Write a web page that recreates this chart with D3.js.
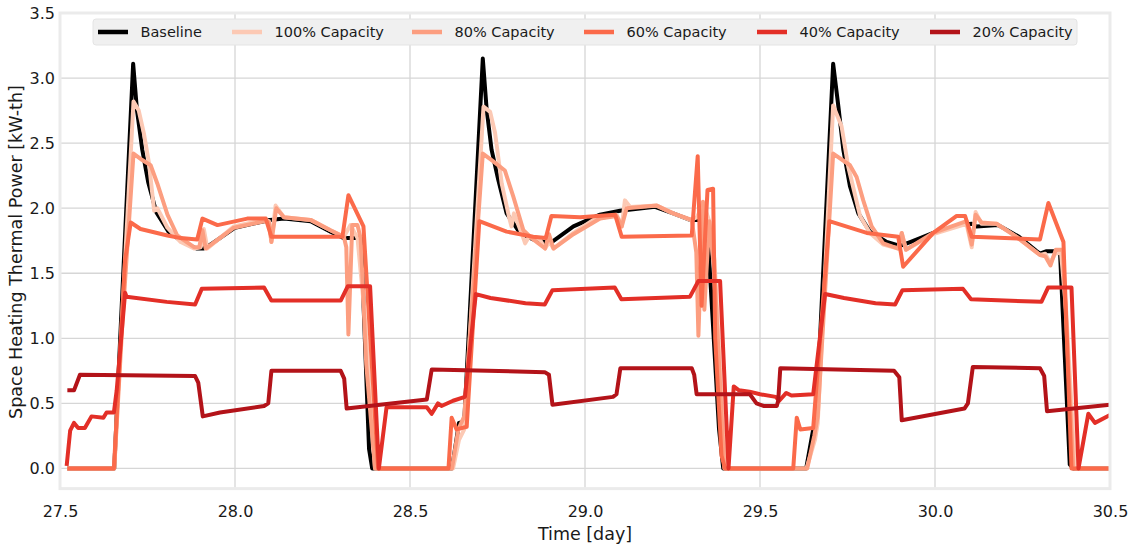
<!DOCTYPE html>
<html>
<head>
<meta charset="utf-8">
<script src="https://cdn.jsdelivr.net/npm/d3@7"></script>
<style>
  html, body { margin: 0; padding: 0; background: #ffffff; }
  svg { display: block; font-family: "DejaVu Sans", sans-serif; }
</style>
</head>
<body>
<svg id="chart" width="1134" height="544"></svg>
<script>
// ---------------- DATA ----------------
const seriesNames = ["Baseline", "100% Capacity", "80% Capacity", "60% Capacity", "40% Capacity", "20% Capacity"];
const seriesColors = ["#000000", "#fcc9b4", "#fc9e80", "#fb6a4a", "#e32f27", "#b31319"];
const xTicks = [27.5, 28.0, 28.5, 29.0, 29.5, 30.0, 30.5];
const yTicks = [0.0, 0.5, 1.0, 1.5, 2.0, 2.5, 3.0, 3.5];

const baseline = [
  [27.521,0],[27.655,0],[27.672,1.0],[27.709,3.11],[27.72,2.75],[27.735,2.45],[27.752,2.2],[27.775,1.97],
  [27.81,1.82],[27.85,1.74],[27.89,1.69],[27.91,1.69],[27.93,1.72],[28.0,1.85],[28.083,1.90],[28.1,1.91],
  [28.14,1.92],[28.216,1.90],[28.273,1.82],[28.311,1.77],[28.36,1.77],[28.383,0.15],[28.392,0],
  [28.62,0],[28.64,0.35],[28.655,0.36],[28.708,3.15],[28.719,2.76],[28.733,2.45],[28.752,2.22],[28.776,1.96],
  [28.814,1.81],[28.852,1.76],[28.9,1.73],[28.967,1.86],[29.043,1.95],[29.1,1.98],[29.2,2.01],[29.252,1.96],
  [29.3,1.91],[29.324,1.91],[29.348,1.92],[29.383,0.3],[29.395,0],
  [29.632,0],[29.652,0.3],[29.66,0.35],[29.709,3.11],[29.724,2.78],[29.738,2.45],[29.757,2.17],[29.781,1.96],
  [29.814,1.82],[29.862,1.74],[29.9,1.71],[29.929,1.74],[29.995,1.81],[30.071,1.87],[30.105,1.88],[30.119,1.86],
  [30.18,1.87],[30.24,1.78],[30.29,1.67],[30.30,1.65],[30.319,1.67],[30.357,1.67],[30.385,0.03],[30.395,0],[30.5,0]
];

const cap100 = [
  [27.521,0],[27.655,0],[27.68,1.3],[27.71,2.82],[27.725,2.75],[27.74,2.57],[27.754,2.35],[27.769,1.98],
  [27.778,2.0],[27.807,1.85],[27.845,1.74],[27.883,1.69],[27.902,1.70],[27.911,1.84],[27.921,1.69],[27.997,1.86],
  [28.083,1.91],[28.097,1.90],[28.104,1.74],[28.116,2.02],[28.14,1.93],[28.216,1.91],[28.273,1.83],[28.311,1.78],
  [28.33,1.87],[28.35,1.77],[28.37,1.2],[28.40,0],
  [28.623,0],[28.64,0.22],[28.655,0.3],[28.71,2.78],[28.729,2.74],[28.743,2.58],[28.762,2.19],[28.784,1.92],
  [28.79,1.86],[28.797,1.96],[28.82,1.80],[28.829,1.73],[28.84,1.78],[28.871,1.76],[28.886,1.69],[28.898,1.74],
  [28.91,1.69],[28.967,1.81],[29.024,1.91],[29.09,1.95],[29.105,1.86],[29.114,2.06],[29.129,2.01],[29.205,2.02],
  [29.252,1.96],[29.3,1.91],[29.32,1.93],[29.338,2.04],[29.355,1.9],[29.37,1.6],[29.40,0],
  [29.633,0],[29.657,0.22],[29.665,0.35],[29.709,2.79],[29.733,2.63],[29.752,2.32],[29.786,1.94],[29.814,1.81],
  [29.852,1.72],[29.895,1.69],[29.905,1.81],[29.917,1.68],[29.995,1.80],[30.09,1.88],[30.105,1.70],[30.116,1.97],
  [30.133,1.88],[30.176,1.88],[30.233,1.78],[30.3,1.64],[30.315,1.65],[30.329,1.58],[30.343,1.65],[30.36,1.66],
  [30.375,1.2],[30.40,0],[30.5,0]
];

const cap80 = [
  [27.521,0],[27.655,0],[27.68,1.2],[27.71,2.42],[27.735,2.37],[27.759,2.33],[27.778,2.19],[27.807,1.95],
  [27.835,1.79],[27.883,1.70],[27.898,1.70],[27.907,1.83],[27.916,1.69],[27.997,1.85],[28.083,1.90],[28.097,1.89],
  [28.104,1.74],[28.118,2.0],[28.14,1.93],[28.216,1.91],[28.273,1.83],[28.311,1.78],[28.318,1.70],[28.324,1.03],
  [28.335,1.87],[28.35,1.87],[28.359,1.77],[28.375,0.8],[28.40,0],
  [28.62,0],[28.638,0.3],[28.655,0.4],[28.708,2.42],[28.738,2.36],[28.771,2.29],[28.795,2.09],[28.824,1.83],
  [28.852,1.76],[28.886,1.69],[28.897,1.80],[28.91,1.69],[28.967,1.80],[29.043,1.92],[29.09,1.94],[29.105,1.86],
  [29.119,2.0],[29.205,2.02],[29.252,1.96],[29.305,1.91],[29.318,1.66],[29.324,1.02],[29.337,2.05],[29.341,1.22],
  [29.355,1.9],[29.37,1.5],[29.398,0],
  [29.635,0],[29.655,0.25],[29.665,0.4],[29.709,2.42],[29.757,2.33],[29.776,2.24],[29.795,2.06],[29.819,1.86],
  [29.852,1.73],[29.895,1.69],[29.905,1.81],[29.917,1.68],[29.995,1.81],[30.09,1.90],[30.105,1.72],[30.116,1.95],
  [30.133,1.89],[30.176,1.88],[30.233,1.78],[30.3,1.64],[30.315,1.63],[30.33,1.56],[30.345,1.68],[30.365,1.68],
  [30.395,0],[30.5,0]
];

const cap60 = [
  [27.521,0],[27.654,0],[27.686,1.6],[27.702,1.89],[27.73,1.84],[27.807,1.79],[27.845,1.77],[27.892,1.76],
  [27.907,1.92],[27.95,1.87],[28.035,1.92],[28.088,1.92],[28.104,1.78],[28.307,1.78],[28.324,2.10],[28.367,1.86],
  [28.409,0],
  [28.61,0],[28.619,0.39],[28.633,0.30],[28.662,0.32],[28.698,1.90],[28.776,1.82],[28.852,1.78],[28.888,1.77],
  [28.904,1.94],[28.986,1.93],[29.086,1.95],[29.105,1.78],[29.305,1.79],[29.322,2.40],[29.333,1.25],[29.350,2.14],
  [29.366,2.15],[29.372,1.0],[29.39,0.1],[29.40,0],
  [29.595,0],[29.605,0.39],[29.615,0.30],[29.652,0.31],[29.698,1.90],[29.805,1.81],[29.895,1.78],[29.909,1.55],
  [29.995,1.81],[30.062,1.94],[30.086,1.94],[30.105,1.78],[30.30,1.76],[30.324,2.04],[30.367,1.74],[30.39,0],[30.5,0]
];

const cap40 = [
  [27.519,0.02],[27.529,0.29],[27.54,0.35],[27.552,0.31],[27.571,0.31],[27.59,0.40],[27.624,0.39],[27.633,0.43],
  [27.654,0.43],[27.662,0.6],[27.686,1.35],[27.69,1.32],[27.805,1.28],[27.886,1.26],[27.905,1.38],[28.083,1.39],
  [28.104,1.29],[28.302,1.29],[28.322,1.40],[28.386,1.40],[28.411,0],
  [28.433,0.47],[28.548,0.47],[28.562,0.42],[28.58,0.50],[28.59,0.48],[28.623,0.52],[28.657,0.55],[28.688,1.34],
  [28.73,1.31],[28.83,1.27],[28.885,1.26],[28.907,1.37],[29.085,1.39],[29.104,1.30],[29.30,1.32],[29.324,1.44],
  [29.386,1.44],[29.41,0],
  [29.425,0.63],[29.44,0.60],[29.47,0.59],[29.50,0.57],[29.545,0.55],[29.555,0.52],[29.575,0.58],[29.59,0.56],
  [29.652,0.57],[29.686,1.34],[29.74,1.31],[29.83,1.27],[29.886,1.26],[29.907,1.37],[30.08,1.38],[30.103,1.30],
  [30.304,1.28],[30.323,1.39],[30.39,1.39],[30.41,0],[30.438,0.42],[30.457,0.35],[30.5,0.41]
];

const cap20 = [
  [27.521,0.60],[27.54,0.60],[27.557,0.72],[27.886,0.71],[27.895,0.66],[27.908,0.40],[27.957,0.43],[28.083,0.48],
  [28.095,0.50],[28.104,0.75],[28.302,0.75],[28.312,0.69],[28.319,0.46],[28.548,0.53],[28.562,0.76],[28.885,0.74],
  [28.897,0.72],[28.907,0.49],[29.08,0.55],[29.09,0.57],[29.101,0.77],[29.305,0.77],[29.312,0.72],[29.319,0.57],
  [29.471,0.57],[29.49,0.50],[29.51,0.48],[29.548,0.48],[29.552,0.52],[29.558,0.77],[29.883,0.75],[29.898,0.70],
  [29.905,0.37],[30.084,0.46],[30.094,0.50],[30.108,0.78],[30.30,0.77],[30.312,0.71],[30.32,0.44],[30.5,0.49]
];

const seriesData = [baseline, cap100, cap80, cap60, cap40, cap20];

// ---------------- LAYOUT ----------------
const svg = d3.select("#chart");
const L = 60, R = 1110, T = 13, B = 488.6;
const x = d3.scaleLinear().domain([27.5, 30.5]).range([L, R]);
const y = d3.scaleLinear().domain([-0.155, 3.5]).range([B, T]);
const textColor = "#1a1a1a";

svg.append("defs").append("clipPath").attr("id", "plotclip")
  .append("rect").attr("x", L).attr("y", T).attr("width", R - L).attr("height", B - T);

// grid
const grid = svg.append("g");
grid.selectAll("line.gx").data(xTicks).enter().append("line")
  .attr("x1", d => x(d)).attr("x2", d => x(d)).attr("y1", T).attr("y2", B)
  .attr("stroke", "#d6d6d6").attr("stroke-width", 1.3);
grid.selectAll("line.gy").data(yTicks).enter().append("line")
  .attr("x1", L).attr("x2", R).attr("y1", d => y(d)).attr("y2", d => y(d))
  .attr("stroke", "#d6d6d6").attr("stroke-width", 1.3);

// axes (labels only)
const yAxis = d3.axisLeft(y).tickValues(yTicks).tickFormat(d3.format(".1f")).tickSize(0).tickPadding(5);
const gy = svg.append("g").attr("transform", `translate(${L},0)`).call(yAxis);
gy.select(".domain").remove();
gy.selectAll("text").attr("font-size", "16px").attr("fill", textColor).attr("font-family", "DejaVu Sans");

const xAxis = d3.axisBottom(x).tickValues(xTicks).tickFormat(d3.format(".1f")).tickSize(0).tickPadding(17);
const gx = svg.append("g").attr("transform", `translate(0,${B})`).call(xAxis);
gx.select(".domain").remove();
gx.selectAll("text").attr("font-size", "16px").attr("fill", textColor).attr("font-family", "DejaVu Sans");

// lines
const line = d3.line().x(d => x(d[0])).y(d => y(d[1]));
const lines = svg.append("g").attr("clip-path", "url(#plotclip)");
seriesData.forEach((data, i) => {
  lines.append("path").datum(data)
    .attr("d", line)
    .attr("fill", "none")
    .attr("stroke", seriesColors[i])
    .attr("stroke-width", 4)
    .attr("stroke-linejoin", "round")
    .attr("stroke-linecap", "butt");
});

// frame
svg.append("rect").attr("x", L).attr("y", T).attr("width", R - L).attr("height", B - T)
  .attr("fill", "none").attr("stroke", "#ebebeb").attr("stroke-width", 3);

// axis titles
svg.append("text").attr("x", 585).attr("y", 540).attr("text-anchor", "middle")
  .attr("font-size", "17.5px").attr("fill", textColor).text("Time [day]");
svg.append("text").attr("transform", "translate(22,252) rotate(-90)").attr("text-anchor", "middle")
  .attr("font-size", "17.5px").attr("fill", textColor).text("Space Heating Thermal Power [kW-th]");

// legend
const legendX = [98, 232, 412, 584, 757, 930];
const lg = svg.append("g");
lg.append("rect").attr("x", 93).attr("y", 19).attr("width", 1077 - 93).attr("height", 26)
  .attr("rx", 3).attr("fill", "#f0f0f0").attr("stroke", "#e4e4e4").attr("stroke-width", 1);
seriesNames.forEach((name, i) => {
  lg.append("line").attr("x1", legendX[i]).attr("x2", legendX[i] + 30).attr("y1", 32).attr("y2", 32)
    .attr("stroke", seriesColors[i]).attr("stroke-width", 4.5);
  lg.append("text").attr("x", legendX[i] + 42.5).attr("y", 37.2)
    .attr("font-size", "14.5px").attr("fill", textColor).text(name);
});
</script>
</body>
</html>
